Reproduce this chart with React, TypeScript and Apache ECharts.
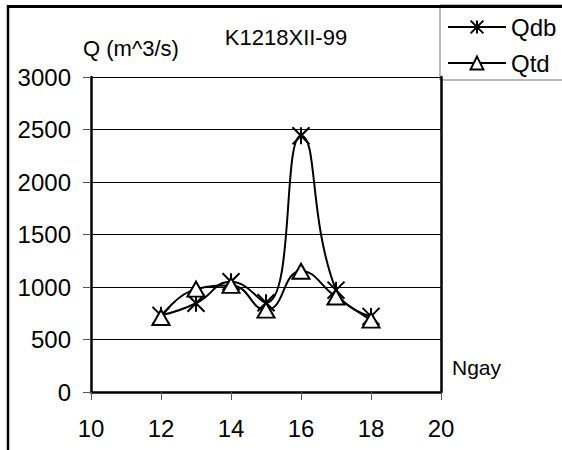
import React, { useEffect, useRef } from 'react';
import * as echarts from 'echarts';

const days = [12, 13, 14, 15, 16, 17, 18];
const qdb = [730, 845, 1050, 850, 2440, 970, 720];
const qtd = [710, 980, 1015, 780, 1150, 905, 685];
const seriesNames = ['Qdb', 'Qtd'];

const FONT = 'Liberation Sans, Arial, sans-serif';
const STAR = 'path://M0,0L20,20M0,20L20,0M10,0L10,20';

const App: React.FC = () => {
  const chartRef = useRef<HTMLDivElement>(null);

  useEffect(() => {
    if (!chartRef.current) return;
    const chart = echarts.init(chartRef.current, null, { renderer: 'svg' });

    const option: echarts.EChartsOption = {
      animation: false,
      backgroundColor: '#fff',
      textStyle: { fontFamily: FONT, color: '#000' },
      grid: { left: 91, top: 77, width: 350, height: 315 },
      xAxis: {
        type: 'value',
        min: 10,
        max: 20,
        interval: 2,
        axisLine: { lineStyle: { color: '#000', width: 2.5 } },
        axisTick: { show: true, inside: false, length: 8, lineStyle: { color: '#555', width: 1 } },
        axisLabel: { fontSize: 24, color: '#000', margin: 24, fontFamily: FONT },
        splitLine: { show: false },
      },
      yAxis: [
        {
          type: 'value',
          min: 0,
          max: 3000,
          interval: 500,
          axisLine: { show: true, lineStyle: { color: '#000', width: 2.5 } },
          axisTick: { show: true, inside: false, length: 8, lineStyle: { color: '#555', width: 1 } },
          axisLabel: {
            fontSize: 24,
            color: '#000',
            margin: 20,
            fontFamily: FONT,
            formatter: (v: number) => String(v),
          },
          splitLine: { show: true, lineStyle: { color: '#000', width: 1 } },
        },
        {
          type: 'value',
          position: 'right',
          min: 0,
          max: 3000,
          interval: 500,
          axisLine: { show: true, lineStyle: { color: '#000', width: 2.5 } },
          axisTick: { show: false },
          axisLabel: { show: false },
          splitLine: { show: false },
        },
      ],
      legend: {
        orient: 'vertical',
        left: 447,
        top: 15,
        padding: 0,
        itemWidth: 58,
        itemHeight: 16,
        itemGap: 12,
        data: seriesNames,
        textStyle: { fontSize: 24, color: '#000', fontFamily: FONT, lineHeight: 24 },
      },
      graphic: [
        {
          type: 'rect',
          z: 0,
          shape: { x: 440, y: 5, width: 130, height: 75 },
          style: { fill: '#fff', stroke: '#777', lineWidth: 1 },
        },
        {
          type: 'line',
          z: 10,
          shape: { x1: 8, y1: 6.5, x2: 562, y2: 6.5 },
          style: { stroke: '#000', lineWidth: 3 },
        },
        {
          type: 'line',
          z: 10,
          shape: { x1: 8, y1: 5, x2: 8, y2: 450 },
          style: { stroke: '#000', lineWidth: 2.5 },
        },
        {
          type: 'text',
          x: 286,
          y: 37,
          style: {
            text: 'K1218XII-99',
            fontSize: 22,
            fontFamily: FONT,
            fill: '#000',
            align: 'center',
            verticalAlign: 'middle',
          },
        },
        {
          type: 'text',
          x: 131,
          y: 48,
          style: {
            text: 'Q (m^3/s)',
            fontSize: 22,
            fontFamily: FONT,
            fill: '#000',
            align: 'center',
            verticalAlign: 'middle',
          },
        },
        {
          type: 'text',
          x: 452,
          y: 367,
          style: {
            text: 'Ngay',
            fontSize: 21,
            fontFamily: FONT,
            fill: '#000',
            align: 'left',
            verticalAlign: 'middle',
          },
        },
      ],
      series: [
        {
          name: seriesNames[0],
          type: 'line',
          data: days.map((d, i) => [d, qdb[i]]),
          smooth: 0.5,
          symbol: STAR,
          symbolSize: [17, 17],
          showAllSymbol: true,
          lineStyle: { color: '#000', width: 2 },
          itemStyle: { color: '#000', borderColor: '#000', borderWidth: 2 },
          z: 3,
        },
        {
          name: seriesNames[1],
          type: 'line',
          data: days.map((d, i) => [d, qtd[i]]),
          smooth: 0.5,
          symbol: 'triangle',
          symbolSize: [17, 15],
          showAllSymbol: true,
          lineStyle: { color: '#000', width: 2 },
          itemStyle: { color: '#fff', borderColor: '#000', borderWidth: 2 },
          z: 4,
        },
      ],
    };

    chart.setOption(option);
    return () => {
      chart.dispose();
    };
  }, []);

  return (
    <div
      ref={chartRef}
      style={{ position: 'fixed', left: 0, top: 0, width: '562px', height: '450px' }}
    />
  );
};

export default App;
